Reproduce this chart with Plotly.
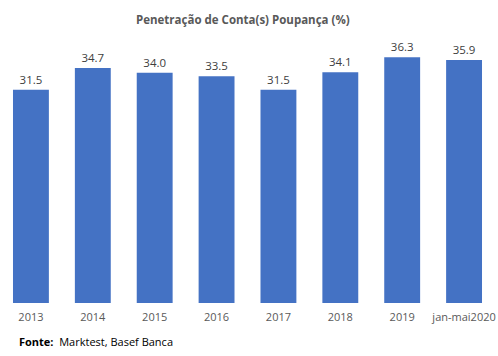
import plotly.graph_objects as go

categories = ["2013", "2014", "2015", "2016", "2017", "2018", "2019", "jan-mai2020"]
values = [31.5, 34.7, 34.0, 33.5, 31.5, 34.1, 36.3, 35.9]
labels = ["31.5", "34.7", "34.0", "33.5", "31.5", "34.1", "36.3", "35.9"]

fig = go.Figure()
fig.add_trace(go.Bar(x=categories, y=values, marker=dict(color="#4472C4", line=dict(width=0)),
                     text=labels, textposition="outside", cliponaxis=False,
                     textfont=dict(family="Open Sans", size=11.5, color="#404040"),
                     hoverinfo="skip"))

fig.add_annotation(xref="paper", yref="paper", x=0.49, y=1, yshift=10, yanchor="bottom",
                   text="<b>Penetração de Conta(s) Poupança (%)</b>", showarrow=False,
                   font=dict(family="Open Sans", size=11.5, color="#595959"))

fig.add_annotation(xref="paper", yref="paper", x=0.034, y=0, yshift=-29, xanchor="left", yanchor="top",
                   text="<b>Fonte:</b>  Marktest, Basef Banca", showarrow=False,
                   font=dict(family="Open Sans", size=11, color="#000000"))

fig.update_layout(
    width=498, height=356, autosize=False,
    margin=dict(l=0, r=3, t=39, b=53),
    plot_bgcolor="white", paper_bgcolor="white",
    bargap=0.42,
    showlegend=False,
    xaxis=dict(type="category", showgrid=False, showline=False, zeroline=False, ticks="",
               ticklabelstandoff=6,
               tickfont=dict(family="Open Sans", size=11, color="#595959")),
    yaxis=dict(range=[0, 39], visible=False),
)

fig.write_html("out.html", config={"displayModeBar": False},
               post_script="document.body.style.margin='0';")
